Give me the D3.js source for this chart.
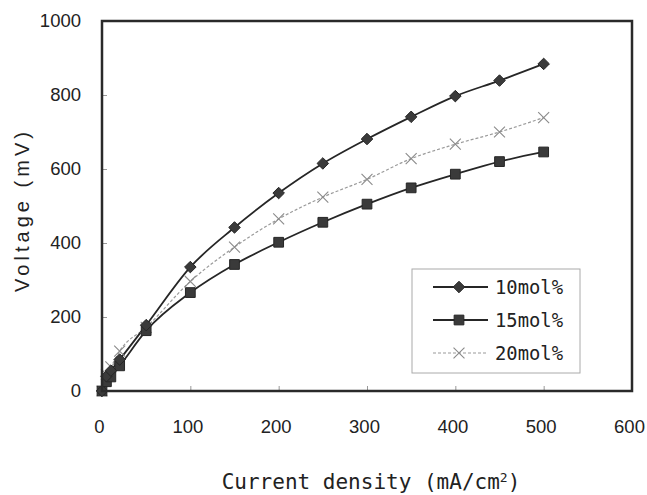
<!DOCTYPE html>
<html><head><meta charset="utf-8">
<script src="https://cdn.jsdelivr.net/npm/d3@7"></script>
<style>html,body{margin:0;padding:0;background:#fff;}</style>
</head><body>
<svg id="c" width="647" height="495"></svg>
<script>
const currentDensity = [0, 5, 10, 20, 50, 100, 150, 200, 250, 300, 350, 400, 450, 500];
const v10 = [0, 40, 55, 85, 178, 335, 442, 535, 615, 681, 741, 797, 839, 884];
const v15 = [0, 25, 38, 68, 163, 266, 342, 402, 456, 505, 549, 586, 620, 646];
const v20 = [0, 45, 65, 108, 172, 296, 389, 465, 524, 572, 628, 667, 700, 739];
const seriesNames = ["10mol%", "15mol%", "20mol%"];
const xTicks = [0, 100, 200, 300, 400, 500, 600];
const yTicks = [0, 200, 400, 600, 800, 1000];

const svg = d3.select("#c");
const x = d3.scaleLinear().domain([0, 600]).range([102, 632]);
const y = d3.scaleLinear().domain([0, 1000]).range([391, 21]);

const styles = [
  {name: seriesNames[0], vals: v10, color: "#262626", width: 1.8, dash: null, sym: d3.symbolDiamond2, size: 85, fill: "#3a3a3a", stroke: "#262626", mw: 1},
  {name: seriesNames[1], vals: v15, color: "#262626", width: 1.8, dash: null, sym: d3.symbolSquare, size: 95, fill: "#3a3a3a", stroke: "#262626", mw: 1},
  {name: seriesNames[2], vals: v20, color: "#9a9a9a", width: 1.2, dash: "3,2", sym: d3.symbolX, size: 80, fill: "none", stroke: "#8a8a8a", mw: 1.1}
];

// inside tick marks
svg.append("g").attr("transform", `translate(0,${y(0)})`)
  .call(d3.axisBottom(x).tickValues(xTicks.slice(1, -1)).tickSize(-5).tickFormat(""))
  .call(g => g.select(".domain").remove())
  .call(g => g.selectAll("line").attr("stroke", "#999").attr("stroke-width", 1));
svg.append("g").attr("transform", `translate(${x(0)},0)`)
  .call(d3.axisLeft(y).tickValues(yTicks.slice(1, -1)).tickSize(-5).tickFormat(""))
  .call(g => g.select(".domain").remove())
  .call(g => g.selectAll("line").attr("stroke", "#999").attr("stroke-width", 1));

// tick labels
svg.append("g").attr("transform", `translate(-3,${y(0)})`)
  .call(d3.axisBottom(x).tickValues(xTicks).tickSize(0).tickPadding(29).tickFormat(d3.format("d")))
  .call(g => g.select(".domain").remove())
  .call(g => g.selectAll("text").attr("font-family", "Liberation Sans, Arial, sans-serif").attr("font-size", 18.5).attr("fill", "#222"));
svg.append("g").attr("transform", `translate(${x(0)},0)`)
  .call(d3.axisLeft(y).tickValues(yTicks).tickSize(0).tickPadding(21).tickFormat(d3.format("d")))
  .call(g => g.select(".domain").remove())
  .call(g => g.selectAll("text").attr("font-family", "Liberation Sans, Arial, sans-serif").attr("font-size", 18.5).attr("fill", "#222"));

// lines
const line = d3.line().curve(d3.curveMonotoneX);
styles.slice().reverse().forEach(s => {
  const pts = currentDensity.map((c, i) => [x(c), y(s.vals[i])]);
  svg.append("path").attr("d", line(pts)).attr("fill", "none")
    .attr("stroke", s.color).attr("stroke-width", s.width)
    .attr("stroke-dasharray", s.dash);
});
styles.slice().reverse().forEach(s => {
  svg.append("g").selectAll("path").data(currentDensity).join("path")
    .attr("transform", (c, i) => `translate(${x(c)},${y(s.vals[i])})`)
    .attr("d", d3.symbol(s.sym, s.size))
    .attr("fill", s.fill).attr("stroke", s.stroke).attr("stroke-width", s.mw);
});

// frame
svg.append("rect").attr("x", x(0)).attr("y", y(1000))
  .attr("width", x(600) - x(0)).attr("height", y(0) - y(1000))
  .attr("fill", "none").attr("stroke", "#2a2a2a").attr("stroke-width", 2.5);

// legend
const lg = svg.append("g");
lg.append("rect").attr("x", 412).attr("y", 269).attr("width", 168).attr("height", 104)
  .attr("fill", "#fff").attr("stroke", "#aaa").attr("stroke-width", 1);
styles.forEach((s, i) => {
  const ly = 287 + i * 33;
  lg.append("line").attr("x1", 433).attr("x2", 488).attr("y1", ly).attr("y2", ly)
    .attr("stroke", s.color).attr("stroke-width", s.width).attr("stroke-dasharray", s.dash);
  lg.append("path").attr("transform", `translate(459,${ly})`)
    .attr("d", d3.symbol(s.sym, s.size)).attr("fill", s.fill).attr("stroke", s.stroke).attr("stroke-width", s.mw);
  lg.append("text").attr("x", 495).attr("y", ly + 7).text(s.name)
    .attr("font-family", "DejaVu Sans Mono, monospace").attr("font-size", 19).attr("fill", "#222")
    .attr("textLength", 68).attr("lengthAdjust", "spacingAndGlyphs");
});

// axis titles
svg.append("text").attr("x", 371).attr("y", 489).attr("text-anchor", "middle")
  .attr("font-family", "DejaVu Sans Mono, monospace").attr("font-size", 21).attr("fill", "#222")
  .html('Current density (mA/cm<tspan baseline-shift="super" font-size="13">2</tspan>)');
svg.append("text").attr("transform", "translate(29,212) rotate(-90)").attr("text-anchor", "middle")
  .attr("font-family", "Liberation Sans, Arial, sans-serif").attr("font-size", 20).attr("fill", "#222")
  .attr("textLength", 160).attr("lengthAdjust", "spacing")
  .text("Voltage (mV)");
</script>
</body></html>
